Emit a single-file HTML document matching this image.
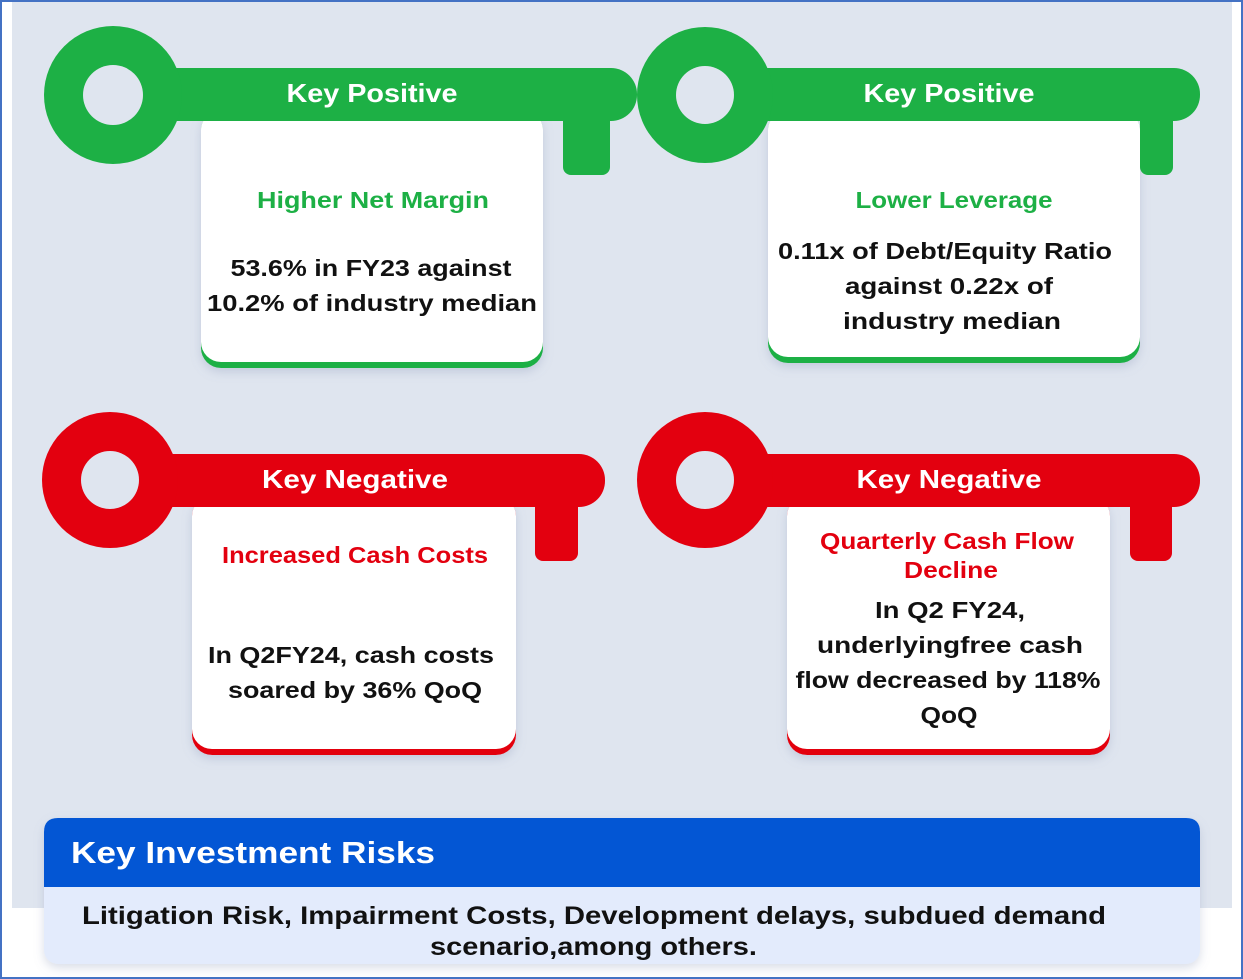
<!DOCTYPE html>
<html><head><meta charset="utf-8"><style>
html,body{margin:0;padding:0;background:#fff}
svg{display:block}
text{font-family:"Liberation Sans",sans-serif;font-weight:bold}
</style></head><body>
<svg width="1243" height="979" viewBox="0 0 1243 979">
<defs><filter id="sh" x="-10%" y="-10%" width="120%" height="130%"><feDropShadow dx="0" dy="4" stdDeviation="5" flood-color="#8090b0" flood-opacity="0.3"/></filter></defs>
<rect x="0" y="0" width="1243" height="979" fill="#fff"/>
<rect x="12" y="2" width="1220" height="906" fill="#dfe5ef"/>

<!-- Key 1 -->
<g>
<rect x="201" y="110" width="342" height="258" rx="20" fill="#1db045" filter="url(#sh)"/>
<rect x="201" y="110" width="342" height="252" rx="20" fill="#fff"/>
<rect x="563" y="100" width="47" height="75" rx="8" fill="#1db045"/>
<rect x="150" y="68" width="487" height="53" rx="26" fill="#1db045"/>
<circle cx="113" cy="95" r="69" fill="#1db045"/>
<circle cx="113" cy="95" r="30" fill="#dfe5ef"/>
<text x="372" y="102" font-size="26" fill="#fff" text-anchor="middle" textLength="171" lengthAdjust="spacingAndGlyphs">Key Positive</text>
<text x="373" y="208" font-size="23" fill="#1db045" text-anchor="middle" textLength="232" lengthAdjust="spacingAndGlyphs">Higher Net Margin</text>
<text x="371" y="276" font-size="23" fill="#111" text-anchor="middle" textLength="281" lengthAdjust="spacingAndGlyphs">53.6% in FY23 against</text>
<text x="372" y="311" font-size="23" fill="#111" text-anchor="middle" textLength="330" lengthAdjust="spacingAndGlyphs">10.2% of industry median</text>
</g>

<!-- Key 2 -->
<g>
<rect x="768" y="110" width="372" height="253" rx="20" fill="#1db045" filter="url(#sh)"/>
<rect x="768" y="110" width="372" height="247" rx="20" fill="#fff"/>
<rect x="1140" y="100" width="33" height="75" rx="8" fill="#1db045"/>
<rect x="740" y="68" width="460" height="53" rx="26" fill="#1db045"/>
<circle cx="705" cy="95" r="68" fill="#1db045"/>
<circle cx="705" cy="95" r="29" fill="#dfe5ef"/>
<text x="949" y="102" font-size="26" fill="#fff" text-anchor="middle" textLength="171" lengthAdjust="spacingAndGlyphs">Key Positive</text>
<text x="954" y="208" font-size="23" fill="#1db045" text-anchor="middle" textLength="197" lengthAdjust="spacingAndGlyphs">Lower Leverage</text>
<text x="945" y="259" font-size="23" fill="#111" text-anchor="middle" textLength="334" lengthAdjust="spacingAndGlyphs">0.11x of Debt/Equity Ratio</text>
<text x="949" y="294" font-size="23" fill="#111" text-anchor="middle" textLength="208" lengthAdjust="spacingAndGlyphs">against 0.22x of</text>
<text x="952" y="329" font-size="23" fill="#111" text-anchor="middle" textLength="218" lengthAdjust="spacingAndGlyphs">industry median</text>
</g>

<!-- Key 3 -->
<g>
<rect x="192" y="496" width="324" height="259" rx="20" fill="#e3000f" filter="url(#sh)"/>
<rect x="192" y="496" width="324" height="253" rx="20" fill="#fff"/>
<rect x="535" y="486" width="43" height="75" rx="8" fill="#e3000f"/>
<rect x="145" y="454" width="460" height="53" rx="26" fill="#e3000f"/>
<circle cx="110" cy="480" r="68" fill="#e3000f"/>
<circle cx="110" cy="480" r="29" fill="#dfe5ef"/>
<text x="355" y="488" font-size="26" fill="#fff" text-anchor="middle" textLength="186" lengthAdjust="spacingAndGlyphs">Key Negative</text>
<text x="355" y="563" font-size="23" fill="#e3000f" text-anchor="middle" textLength="266" lengthAdjust="spacingAndGlyphs">Increased Cash Costs</text>
<text x="351" y="663" font-size="23" fill="#111" text-anchor="middle" textLength="286" lengthAdjust="spacingAndGlyphs">In Q2FY24, cash costs</text>
<text x="355" y="698" font-size="23" fill="#111" text-anchor="middle" textLength="254" lengthAdjust="spacingAndGlyphs">soared by 36% QoQ</text>
</g>

<!-- Key 4 -->
<g>
<rect x="787" y="496" width="323" height="259" rx="20" fill="#e3000f" filter="url(#sh)"/>
<rect x="787" y="496" width="323" height="253" rx="20" fill="#fff"/>
<rect x="1130" y="486" width="42" height="75" rx="8" fill="#e3000f"/>
<rect x="740" y="454" width="460" height="53" rx="26" fill="#e3000f"/>
<circle cx="705" cy="480" r="68" fill="#e3000f"/>
<circle cx="705" cy="480" r="29" fill="#dfe5ef"/>
<text x="949" y="488" font-size="26" fill="#fff" text-anchor="middle" textLength="185" lengthAdjust="spacingAndGlyphs">Key Negative</text>
<text x="947" y="549" font-size="23" fill="#e3000f" text-anchor="middle" textLength="254" lengthAdjust="spacingAndGlyphs">Quarterly Cash Flow</text>
<text x="951" y="578" font-size="23" fill="#e3000f" text-anchor="middle" textLength="94" lengthAdjust="spacingAndGlyphs">Decline</text>
<text x="950" y="618" font-size="23" fill="#111" text-anchor="middle" textLength="150" lengthAdjust="spacingAndGlyphs">In Q2 FY24,</text>
<text x="950" y="653" font-size="23" fill="#111" text-anchor="middle" textLength="266" lengthAdjust="spacingAndGlyphs">underlyingfree cash</text>
<text x="948" y="688" font-size="23" fill="#111" text-anchor="middle" textLength="305" lengthAdjust="spacingAndGlyphs">flow decreased by 118%</text>
<text x="949" y="723" font-size="23" fill="#111" text-anchor="middle" textLength="57" lengthAdjust="spacingAndGlyphs">QoQ</text>
</g>

<!-- Risks -->
<g>
<rect x="44" y="818" width="1156" height="146" rx="14" fill="#e3ebfc" filter="url(#sh)"/>
<path d="M44 887 V832 Q44 818 58 818 H1186 Q1200 818 1200 832 V887 Z" fill="#0356d4"/>
<text x="71" y="863" font-size="31" fill="#fff" textLength="364" lengthAdjust="spacingAndGlyphs">Key Investment Risks</text>
<text x="82" y="924" font-size="25" fill="#111" textLength="1024" lengthAdjust="spacingAndGlyphs">Litigation Risk, Impairment Costs, Development delays, subdued demand</text>
<text x="430" y="955" font-size="25" fill="#111" textLength="327" lengthAdjust="spacingAndGlyphs">scenario,among others.</text>
</g>

<rect x="1" y="1" width="1241" height="977" fill="none" stroke="#4472c4" stroke-width="2"/>
</svg>
</body></html>
